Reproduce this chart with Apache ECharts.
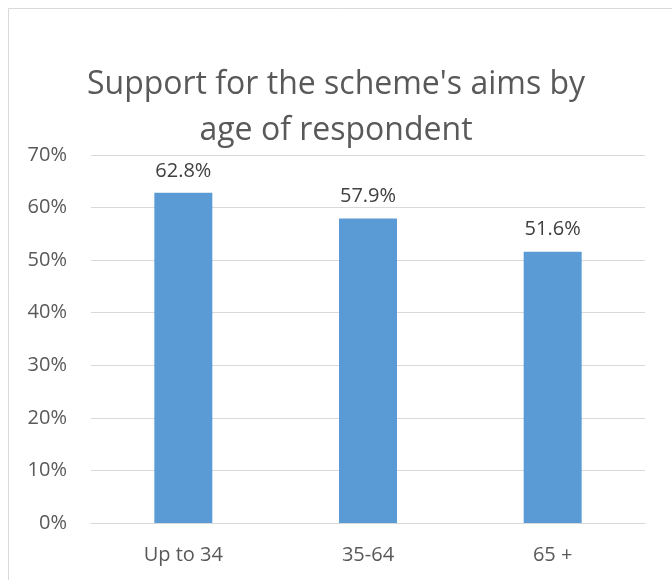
<!DOCTYPE html>
<html>
<head>
<meta charset="utf-8">
<style>
  html, body { margin: 0; padding: 0; background: #fff; }
  #chart { width: 672px; height: 580px; }
</style>
<script src="https://cdn.jsdelivr.net/npm/echarts@6/dist/echarts.min.js"></script>
</head>
<body>
<div id="chart"></div>
<script>
const titleLines = ["Support for the scheme's aims by", "age of respondent"];
const categories = ["Up to 34", "35-64", "65 +"];
const supportPct = [62.8, 57.9, 51.6];
const yTicks = [0, 10, 20, 30, 40, 50, 60, 70];

const FONT = "'Open Sans', sans-serif";
const chart = echarts.init(document.getElementById('chart'), null, { renderer: 'canvas' });
chart.setOption({
  animation: false,
  backgroundColor: '#ffffff',
  title: {
    text: titleLines.join('\n'),
    left: 'center',
    top: 57,
    textStyle: { fontFamily: FONT, fontSize: 32, fontWeight: 'normal', color: '#595959', lineHeight: 46 }
  },
  graphic: [{
    type: 'rect',
    shape: { x: 8.5, y: 8.5, width: 700, height: 700 },
    style: { fill: 'none', stroke: '#d9d9d9', lineWidth: 1 },
    silent: true
  }],
  grid: { left: 91, right: 27, top: 155, bottom: 57 },
  xAxis: {
    type: 'category',
    data: categories,
    axisTick: { show: false },
    axisLine: { lineStyle: { color: '#d9d9d9', width: 1 } },
    axisLabel: { fontFamily: FONT, fontSize: 20, color: '#595959', margin: 22 }
  },
  yAxis: {
    type: 'value',
    min: yTicks[0],
    max: yTicks[yTicks.length - 1],
    interval: 10,
    axisLine: { show: false },
    axisTick: { show: false },
    splitLine: { lineStyle: { color: '#d9d9d9', width: 1 } },
    axisLabel: { fontFamily: FONT, fontSize: 20, color: '#595959', margin: 24, formatter: v => v + '%' }
  },
  series: [{
    type: 'bar',
    data: supportPct,
    barWidth: 58,
    itemStyle: { color: '#5b9bd5' },
    label: {
      show: true,
      position: 'top',
      distance: 12,
      fontFamily: FONT,
      fontSize: 20,
      color: '#404040',
      formatter: p => p.value.toFixed(1) + '%'
    }
  }]
});
</script>
</body>
</html>
